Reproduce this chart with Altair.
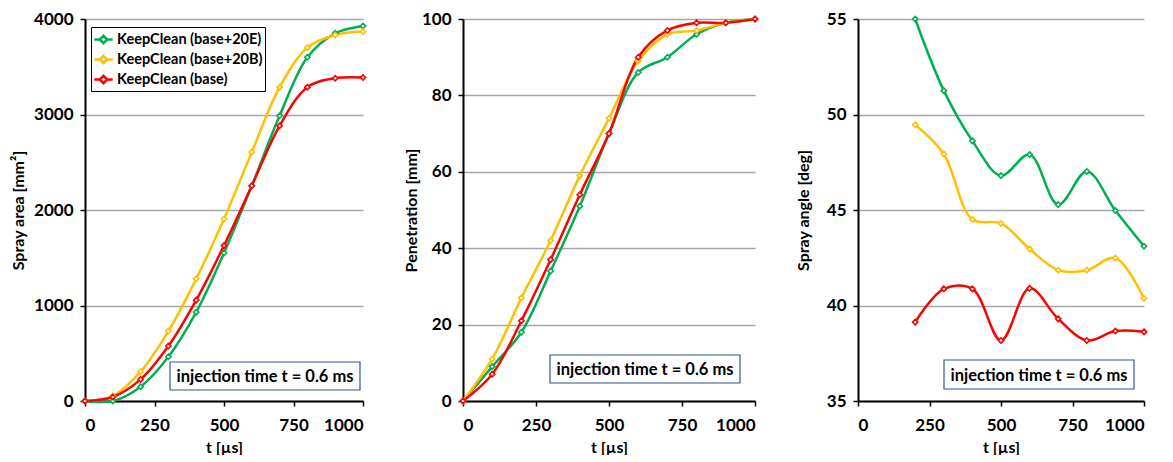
import altair as alt
import pandas as pd

# ---------------- data ----------------
SERIES = ["KeepClean (base+20E)", "KeepClean (base+20B)", "KeepClean (base)"]
COLORS = ["#00B050", "#FFC000", "#FF0000"]

T_FULL = [0, 100, 200, 300, 400, 500, 600, 700, 800, 900, 1000]
T_ANGLE = [200, 300, 400, 500, 600, 700, 800, 900, 1000]

AREA_20E = [0, 0, 150, 463, 930, 1550, 2254, 2986, 3599, 3850, 3927]
AREA_20B = [0, 52, 307, 732, 1279, 1906, 2606, 3286, 3700, 3833, 3868]
AREA_BASE = [0, 42, 226, 575, 1056, 1627, 2254, 2882, 3286, 3380, 3387]

PEN_20E = [0, 9, 18, 34, 51, 70, 86, 90, 96, 99, 100]
PEN_20B = [0, 11, 27, 42, 59, 74, 89, 96, 97, 99, 100]
PEN_BASE = [0, 7, 21, 37, 54, 70, 90, 97, 99, 99, 100]

ANG_20E = [55.0, 51.25, 48.62, 46.8, 47.9, 45.28, 47.02, 44.97, 43.1]
ANG_20B = [49.46, 47.93, 44.5, 44.3, 42.96, 41.85, 41.85, 42.49, 40.37]
ANG_BASE = [39.13, 40.87, 40.87, 38.17, 40.9, 39.3, 38.17, 38.66, 38.62]

X_TICKS = [0, 250, 500, 750, 1000]
AREA_TICKS = [0, 1000, 2000, 3000, 4000]
PEN_TICKS = [0, 20, 40, 60, 80, 100]
ANG_TICKS = [35, 40, 45, 50, 55]

ANNOT = "injection time t = 0.6 ms"
X_TITLE = "t [µs]"
# trailing no-break spaces shift the rotated y titles slightly downward, as in the original
TITLE_PAD = "\u00a0" * 18


def long_df(ts, cols):
    rows = []
    for name, vals in zip(SERIES, cols):
        for t, v in zip(ts, vals):
            rows.append({"t": t, "v": v, "series": name})
    return pd.DataFrame(rows)


df_area = long_df(T_FULL, [AREA_20E, AREA_20B, AREA_BASE])
df_pen = long_df(T_FULL, [PEN_20E, PEN_20B, PEN_BASE])
df_ang = long_df(T_ANGLE, [ANG_20E, ANG_20B, ANG_BASE])

FONT = "Lato"
H = 382
LBL = 17
TTL = 16
color_scale = alt.Scale(domain=SERIES, range=COLORS)
LEG_PATH = "M-1,0L-0.4,0M0,-0.4L0.4,0L0,0.4L-0.4,0ZM0.4,0L1,0"


def axis_common(**kw):
    return alt.Axis(
        labelFont=FONT, labelFontSize=LBL, labelFontWeight="bold", labelColor="black",
        titleFont=FONT, titleFontSize=TTL, titleFontWeight="bold", titleColor="black",
        domainColor="black", domainWidth=2, tickColor="black", tickWidth=1.5,
        tickSize=5, gridColor="#A6A6A6", gridWidth=1.3, format="d", **kw
    )


def panel(df, ytitle, ydomain, yticks, width, box, ytpad, show_legend=False):
    x = alt.X("t:Q", title=X_TITLE,
              scale=alt.Scale(domain=[0, 1000], nice=False),
              axis=axis_common(values=X_TICKS, grid=False, labelPadding=11,
                               titlePadding=6))
    y = alt.Y("v:Q", title=ytitle + TITLE_PAD,
              scale=alt.Scale(domain=ydomain, nice=False, zero=False),
              axis=axis_common(values=yticks, grid=True, labelPadding=7,
                               titlePadding=ytpad))
    if show_legend:
        legend = alt.Legend(
            title=None, orient="none", legendX=6, legendY=8,
            symbolType=LEG_PATH, symbolSize=340, symbolStrokeWidth=2.5,
            labelFontSize=14.5, labelFont=FONT, labelFontWeight="bold",
            labelColor="black", strokeColor="black", fillColor="white",
            padding=2, rowPadding=0, labelOffset=3, labelLimit=300,
        )
    else:
        legend = None
    line = alt.Chart(df).mark_line(
        interpolate="catmull-rom", strokeWidth=2.5
    ).encode(
        x=x, y=y,
        color=alt.Color("series:N", scale=color_scale, sort=SERIES, legend=legend),
        detail="series:N",
    )
    pts = alt.Chart(df).mark_point(
        shape="diamond", size=28, filled=False, fill="white", fillOpacity=1,
        strokeWidth=1.6, opacity=1,
    ).encode(
        x=x, y=y,
        stroke=alt.Stroke("series:N", scale=color_scale, legend=None),
    )
    bx0, bx1, by0, by1 = box
    note_df = pd.DataFrame({"label": [ANNOT]})
    rect = alt.Chart(note_df).mark_rect(
        fill="white", stroke="#2F5597", strokeWidth=1.2
    ).encode(
        x=alt.value(bx0), x2=alt.value(bx1), y=alt.value(by0), y2=alt.value(by1)
    )
    txt = alt.Chart(note_df).mark_text(
        font=FONT, fontSize=16.5, fontWeight="bold", color="black",
        align="center", baseline="middle",
    ).encode(
        x=alt.value((bx0 + bx1) / 2), y=alt.value((by0 + by1) / 2 + 1),
        text="label:N",
    )
    return alt.layer(rect, txt, line, pts).properties(width=width, height=H)


p1 = panel(df_area, "Spray area [mm²]", [0, 4000], AREA_TICKS, 278,
           (85, 275, 343, 371), 7, show_legend=True)
p2 = panel(df_pen, "Penetration [mm]", [0, 100], PEN_TICKS, 292,
           (87, 277, 336, 364), 2)
p3 = panel(df_ang, "Spray angle [deg]", [35, 55], ANG_TICKS, 286,
           (86, 276, 341, 370), 15)

left = alt.hconcat(p1, p2, spacing=34)
chart = alt.hconcat(left, p3, spacing=34).resolve_scale(
    color="independent", stroke="independent"
).resolve_legend(color="independent", stroke="independent").configure_view(
    stroke=None
).properties(
    padding={"left": 2, "top": 2, "right": 5, "bottom": 0}
)

chart.save("out.html", embed_options={"renderer": "svg", "actions": False})
